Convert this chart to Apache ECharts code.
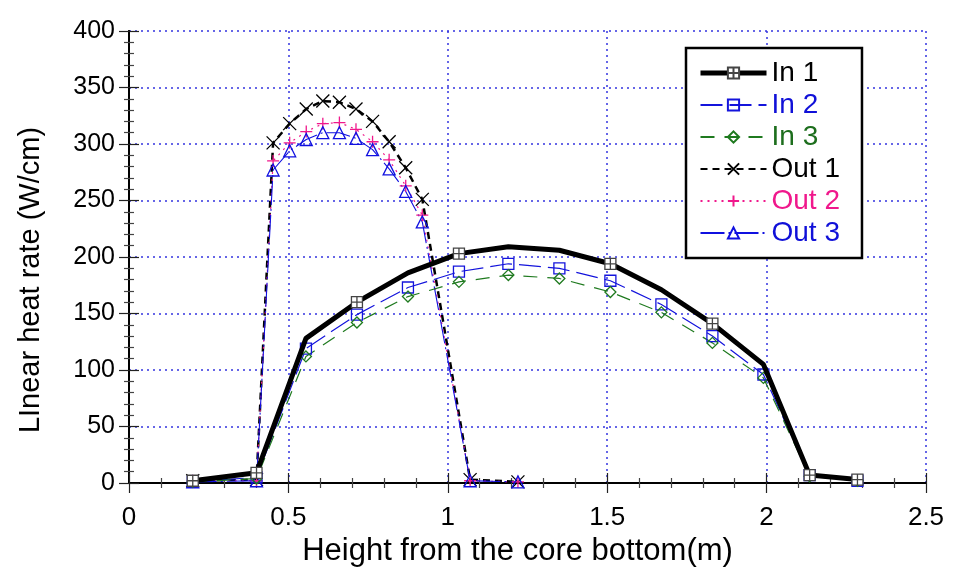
<!DOCTYPE html>
<html>
<head>
<meta charset="utf-8">
<script src="https://cdn.jsdelivr.net/npm/echarts@6/dist/echarts.min.js"></script>
<style>
  html, body { margin: 0; padding: 0; background: #fff; }
  #chart { width: 954px; height: 575px; }
</style>
</head>
<body>
<div id="chart"></div>
<script>
// Axial heights (m) of the inner and outer channel nodes
const heightIn = [0.2, 0.4, 0.555, 0.715, 0.875, 1.035, 1.19, 1.35, 1.51, 1.67, 1.83, 1.99, 2.135, 2.285];
const heightOut = [0.2, 0.4, 0.452, 0.504, 0.556, 0.608, 0.66, 0.712, 0.764, 0.816, 0.868, 0.92, 1.07, 1.22];

// Linear heat rate (W/cm)
const in1 = [2, 9, 128, 160, 186, 203, 209, 206, 194, 171, 141, 105, 7, 3];
const in2 = [1, 5, 119, 149, 173, 187, 194, 190, 179, 158, 130, 96, 7, 2];
const in3 = [1, 4, 112, 142, 165, 178, 184, 181, 169, 151, 124, 93, 6, 2];
const out1 = [2, 3, 301, 318, 331, 338, 337, 331, 320, 302, 279, 251, 3, 1];
const out2 = [2, 2, 285, 301, 311, 318, 319, 313, 302, 286, 263, 237, 2, 1];
const out3 = [1, 2, 277, 294, 304, 310, 310, 305, 295, 278, 258, 231, 2, 1];

const seriesNames = ['In 1', 'In 2', 'In 3', 'Out 1', 'Out 2', 'Out 3'];
const xTicks = [0, 0.5, 1, 1.5, 2, 2.5];
const yTicks = [0, 50, 100, 150, 200, 250, 300, 350, 400];

// Nodes of "In 1" that carry a marker
const in1Marked = [0, 1, 3, 5, 8, 10, 12, 13];

const FONT = "'Liberation Sans', Arial, sans-serif";
const GRID_BLUE = '#3535e0';

function pairs(xs, ys, marked) {
  return xs.map((x, i) => {
    const item = { value: [x, ys[i]] };
    if (marked && marked.indexOf(i) < 0) item.symbol = 'none';
    return item;
  });
}

const boxCross = 'path://M0,0H10V10H0Z M5,0V10 M0,5H10';
const plus = 'path://M5,0V10 M0,5H10';
const cross = 'path://M0,0L10,10 M10,0L0,10';

const chart = echarts.init(document.getElementById('chart'), null, { renderer: 'canvas' });

const tickCommon = {
  axisLine: { show: true, lineStyle: { color: '#000', width: 2 } },
  axisTick: { show: true, inside: true, length: 10, lineStyle: { color: '#222', width: 1.2 } },
  minorTick: { show: true, splitNumber: 5, length: 5, lineStyle: { color: '#444', width: 1.2 } }
};

chart.setOption({
  animation: false,
  backgroundColor: '#fff',
  grid: { left: 129, right: 28, top: 31, bottom: 92, containLabel: false },
  xAxis: [
    Object.assign({
      type: 'value', min: xTicks[0], max: xTicks[xTicks.length - 1], interval: 0.5,
      position: 'bottom',
      name: 'Height from the core bottom(m)', nameLocation: 'middle', nameGap: 52,
      nameTextStyle: { fontFamily: FONT, fontSize: 31, color: '#000', padding: [0, 20, 0, 0] },
      axisLabel: { fontFamily: FONT, fontSize: 26, color: '#000', margin: 22,
        formatter: v => String(v) },
      splitLine: { show: true, lineStyle: { color: GRID_BLUE, width: 1.5, type: [2, 4] } }
    }, tickCommon),
    Object.assign({
      type: 'value', min: xTicks[0], max: xTicks[xTicks.length - 1], interval: 0.5,
      position: 'top', axisLabel: { show: false }, splitLine: { show: false }
    }, tickCommon)
  ],
  yAxis: [
    Object.assign({
      type: 'value', min: yTicks[0], max: yTicks[yTicks.length - 1], interval: 50,
      position: 'left',
      name: 'LInear heat rate (W/cm)', nameLocation: 'middle', nameGap: 84,
      nameTextStyle: { fontFamily: FONT, fontSize: 29, color: '#000', padding: [0, 46, 0, 0] },
      axisLabel: { fontFamily: FONT, fontSize: 25, color: '#000', margin: 14 },
      splitLine: { show: true, lineStyle: { color: GRID_BLUE, width: 1.5, type: [2, 4] } }
    }, tickCommon),
    Object.assign({
      type: 'value', min: yTicks[0], max: yTicks[yTicks.length - 1], interval: 50,
      position: 'right', axisLabel: { show: false }, splitLine: { show: false }
    }, tickCommon)
  ],
  legend: {
    orient: 'vertical', left: 686, top: 48,
    padding: [11, 22, 11, 12],
    borderColor: '#000', borderWidth: 2.5, backgroundColor: '#fff',
    itemWidth: 66, itemHeight: 14, itemGap: 4,
    textStyle: { fontFamily: FONT, fontSize: 28, lineHeight: 28 },
    data: [
      { name: seriesNames[0], textStyle: { color: '#000' }, lineStyle: { width: 5 } },
      { name: seriesNames[1], textStyle: { color: '#1010d8' } },
      { name: seriesNames[2], textStyle: { color: '#1d6e1d' } },
      { name: seriesNames[3], textStyle: { color: '#000' } },
      { name: seriesNames[4], textStyle: { color: '#f0188c' } },
      { name: seriesNames[5], textStyle: { color: '#1010d8' } }
    ]
  },
  series: [
    {
      name: seriesNames[3], type: 'line', data: pairs(heightOut, out1),
      symbol: cross, symbolSize: 13,
      lineStyle: { color: '#000', width: 2.5, type: [7, 5] },
      itemStyle: { color: 'none', borderColor: '#000', borderWidth: 1.3 }, z: 3
    },
    {
      name: seriesNames[4], type: 'line', data: pairs(heightOut, out2),
      symbol: plus, symbolSize: 12,
      lineStyle: { color: '#f0188c', width: 1.2, type: [2, 5] },
      itemStyle: { color: 'none', borderColor: '#f0188c', borderWidth: 1.3 }, z: 3
    },
    {
      name: seriesNames[5], type: 'line', data: pairs(heightOut, out3),
      symbol: 'triangle', symbolSize: 12,
      lineStyle: { color: '#1010e0', width: 1.1, type: [24, 4, 2, 4] },
      itemStyle: { color: 'none', borderColor: '#1010e0', borderWidth: 1.3 }, z: 3
    },
    {
      name: seriesNames[1], type: 'line', data: pairs(heightIn, in2),
      symbol: 'rect', symbolSize: 11,
      lineStyle: { color: '#1414dc', width: 1.2, type: [22, 7] },
      itemStyle: { color: 'none', borderColor: '#1414dc', borderWidth: 1.3 }, z: 4
    },
    {
      name: seriesNames[2], type: 'line', data: pairs(heightIn, in3),
      symbol: 'diamond', symbolSize: 11,
      lineStyle: { color: '#1f7a1f', width: 1.2, type: [14, 10] },
      itemStyle: { color: 'none', borderColor: '#1f7a1f', borderWidth: 1.3 }, z: 4
    },
    {
      name: seriesNames[0], type: 'line', data: pairs(heightIn, in1, in1Marked),
      symbol: boxCross, symbolSize: 11,
      lineStyle: { color: '#000', width: 5 },
      itemStyle: { color: '#fff', borderColor: '#444', borderWidth: 1.3 }, z: 5
    }
  ]
});
</script>
</body>
</html>
